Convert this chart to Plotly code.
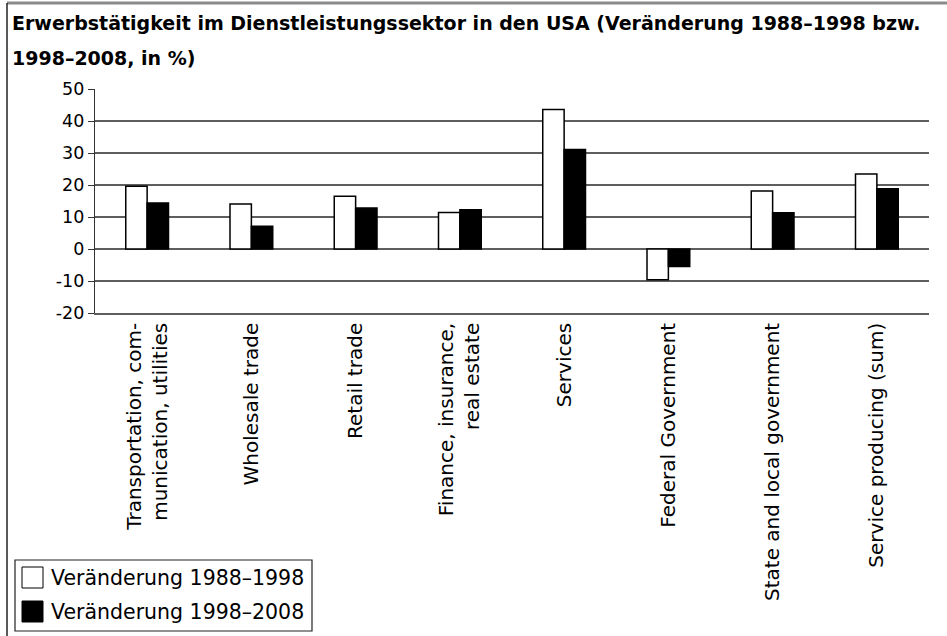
import plotly.graph_objects as go

categories = [
    "Transportation, com-<br>munication, utilities",
    "Wholesale trade",
    "Retail trade",
    "Finance, insurance,<br>real estate",
    "Services",
    "Federal Government",
    "State and local government",
    "Service producing (sum)",
]
change_1988_1998 = [19.6, 14.1, 16.5, 11.4, 43.6, -9.6, 18.1, 23.4]
change_1998_2008 = [14.4, 7.1, 12.8, 12.3, 31.1, -5.5, 11.3, 18.8]
series_names = ["Veränderung 1988–1998", "Veränderung 1998–2008"]
y_ticks = [-20, -10, 0, 10, 20, 30, 40, 50]
y_tick_labels = ["-20", "-10", "0", "10", "20", "30", "40", "50"]
title_line1 = "Erwerbstätigkeit im Dienstleistungssektor in den USA (Veränderung 1988–1998 bzw."
title_line2 = "1998–2008, in %)"

W, H = 947, 636
L, R, T, B = 95, 18, 89, 323
PW = W - L - R
PH = H - T - B


def px(x):
    return (x - L) / PW


def py(y):
    return (H - B - y) / PH


fig = go.Figure()
fig.add_trace(go.Bar(
    x=categories, y=change_1988_1998, name=series_names[0],
    marker=dict(color="white", line=dict(color="black", width=1.5)),
    showlegend=False,
))
fig.add_trace(go.Bar(
    x=categories, y=change_1998_2008, name=series_names[1],
    marker=dict(color="black", line=dict(color="black", width=1.5)),
    showlegend=False,
))

shapes = []
# outer frame: top and left lines
shapes.append(dict(type="line", xref="paper", yref="paper",
                   x0=px(7), x1=px(W), y0=py(3), y1=py(3),
                   line=dict(color="#8a8a8a", width=3)))
shapes.append(dict(type="line", xref="paper", yref="paper",
                   x0=px(7), x1=px(7), y0=py(3), y1=py(H),
                   line=dict(color="#222222", width=1.5)))
# legend box
shapes.append(dict(type="rect", xref="paper", yref="paper",
                   x0=px(15), x1=px(312), y0=py(560), y1=py(631),
                   line=dict(color="#222222", width=1.2), fillcolor="white"))
shapes.append(dict(type="rect", xref="paper", yref="paper",
                   x0=px(22), x1=px(43), y0=py(567), y1=py(588),
                   line=dict(color="black", width=1), fillcolor="white"))
shapes.append(dict(type="rect", xref="paper", yref="paper",
                   x0=px(22), x1=px(43), y0=py(601), y1=py(622),
                   line=dict(color="black", width=1), fillcolor="black"))

annotations = [
    dict(text=title_line1, xref="paper", yref="paper", x=px(10), y=py(23),
         xanchor="left", yanchor="middle", showarrow=False,
         font=dict(family="DejaVu Sans", size=19, color="black", weight="bold")),
    dict(text=title_line2, xref="paper", yref="paper", x=px(10), y=py(58),
         xanchor="left", yanchor="middle", showarrow=False,
         font=dict(family="DejaVu Sans", size=19, color="black", weight="bold")),
    dict(text=series_names[0], xref="paper", yref="paper", x=px(49), y=py(578),
         xanchor="left", yanchor="middle", showarrow=False,
         font=dict(family="DejaVu Sans", size=20.5, color="black")),
    dict(text=series_names[1], xref="paper", yref="paper", x=px(49), y=py(612),
         xanchor="left", yanchor="middle", showarrow=False,
         font=dict(family="DejaVu Sans", size=20.5, color="black")),
]

fig.update_layout(
    width=W, height=H,
    margin=dict(l=L, r=R, t=T, b=B, autoexpand=False),
    paper_bgcolor="white", plot_bgcolor="white",
    barmode="group", bargap=0.59, bargroupgap=0,
    shapes=shapes, annotations=annotations,
    font=dict(family="DejaVu Sans", color="black"),
)
fig.update_yaxes(
    range=[-20, 50], tickvals=y_ticks, ticktext=y_tick_labels,
    showgrid=True, gridcolor="#5e5e5e", gridwidth=1.6,
    zeroline=True, zerolinecolor="#5e5e5e", zerolinewidth=1.6,
    showline=True, linecolor="#333333", linewidth=1.2,
    ticks="outside", ticklen=6, tickcolor="#333333",
    tickfont=dict(family="DejaVu Sans", size=17.5, color="black"),
)
fig.update_xaxes(
    showline=True, linecolor="#5e5e5e", linewidth=1.6,
    tickangle=-90, ticks="",
    tickfont=dict(family="DejaVu Sans", size=20, color="black"),
)

fig.write_html(
    "out.html",
    config={"displayModeBar": False},
    post_script="document.body.style.margin='0';document.body.style.overflow='hidden';",
)
